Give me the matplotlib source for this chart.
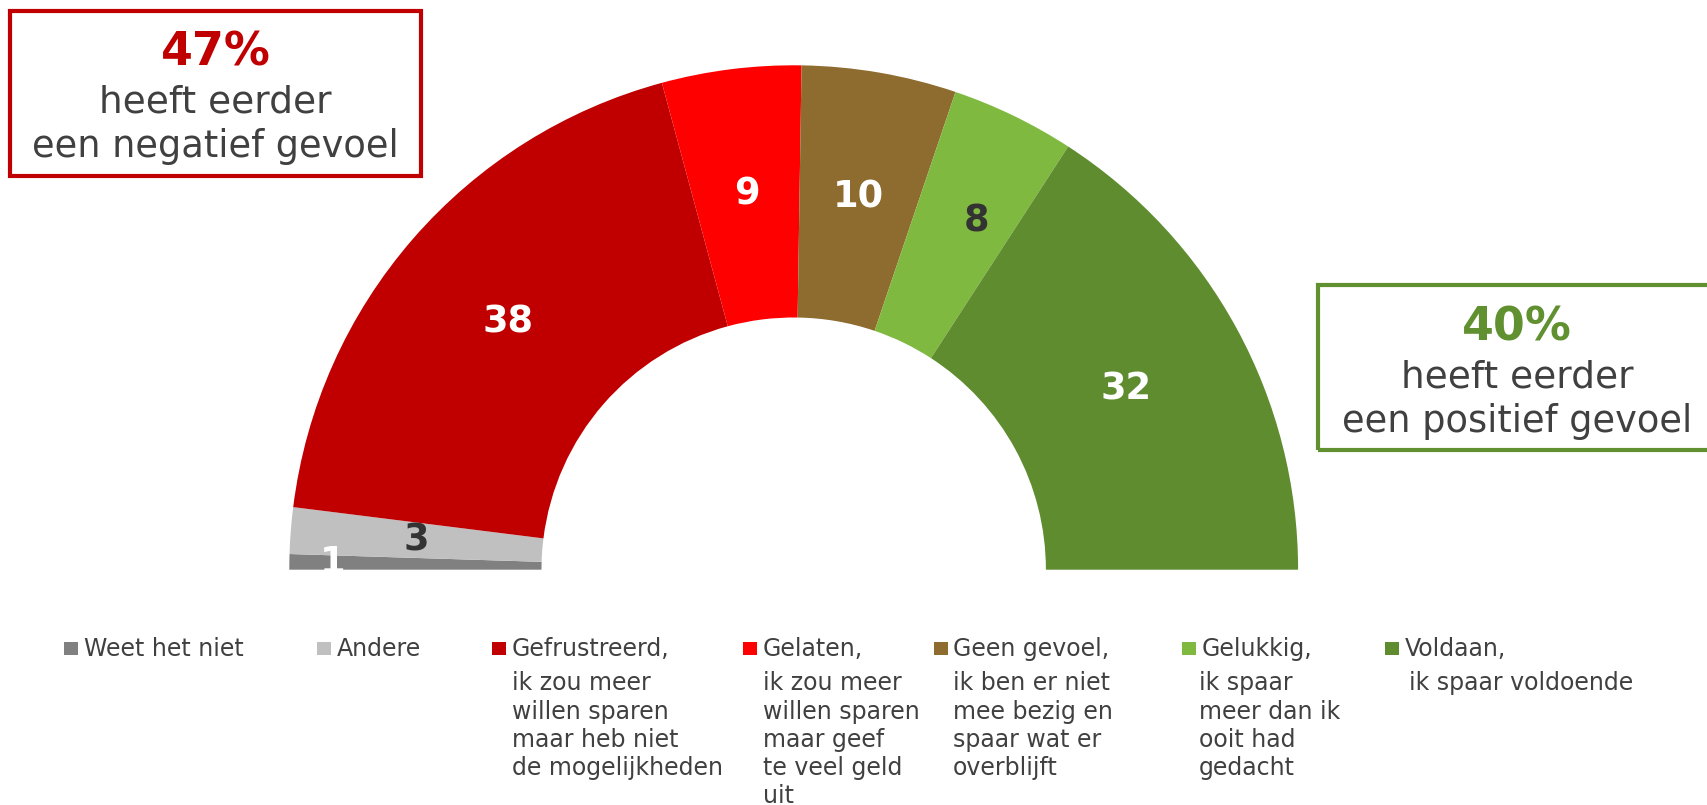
import numpy as np
import matplotlib
matplotlib.use('Agg')
import matplotlib.pyplot as plt
from matplotlib.patches import Rectangle

# Data
categories = ['Weet het niet', 'Andere', 'Gefrustreerd', 'Gelaten',
              'Geen gevoel', 'Gelukkig', 'Voldaan']
values = [1, 3, 38, 9, 10, 8, 32]
colors = ['#808080', '#C0C0C0', '#C00000', '#FF0000',
          '#8E6B2E', '#80B940', '#5F8C2F']
label_colors = ['white', '#333333', 'white', 'white', 'white', '#333333', 'white']
legend_titles = ['Weet het niet', 'Andere', 'Gefrustreerd,', 'Gelaten,',
                 'Geen gevoel,', 'Gelukkig,', 'Voldaan,']
legend_desc = [
    [],
    [],
    ['ik zou meer', 'willen sparen', 'maar heb niet', 'de mogelijkheden'],
    ['ik zou meer', 'willen sparen', 'maar geef', 'te veel geld', 'uit'],
    ['ik ben er niet', 'mee bezig en', 'spaar wat er', 'overblijft'],
    ['ik spaar', 'meer dan ik', 'ooit had', 'gedacht'],
    ['ik spaar voldoende'],
]
negative_pct = '47%'
positive_pct = '40%'

W, H = 1708, 805
fig = plt.figure(figsize=(W / 100, H / 100), dpi=100)
ax = fig.add_axes([0, 0, 1, 1])

# Half donut: add an invisible wedge for the bottom half
cx, cy, R = 793.7, 235.3, 504.4
total = sum(values)
wedges, _ = ax.pie(values + [total], colors=colors + ['none'],
                   startangle=180, counterclock=False,
                   radius=R, center=(cx, cy),
                   wedgeprops=dict(width=R * 0.5, linewidth=0))

# Value labels
label_r = [0.915, 0.75, 0.75, 0.75, 0.75, 0.78, 0.75]
label_shift = [0, 0, 0, 0, 0, -1.8, 0]   # small angular nudges (deg)
cum = np.cumsum([0] + values)
for i, v in enumerate(values):
    mid = 180 - (cum[i] + v / 2) / (2 * total) * 360 + label_shift[i]
    r = R * label_r[i]
    x = cx + r * np.cos(np.radians(mid))
    y = cy + r * np.sin(np.radians(mid))
    ax.text(x, y, str(v), ha='center', va='center', fontsize=26.5,
            fontweight='bold', color=label_colors[i], family='DejaVu Sans')

ax.set_xlim(0, W)
ax.set_ylim(0, H)
ax.set_aspect('equal')
ax.axis('off')

# Summary boxes
ax.add_patch(Rectangle((10, 629), 411, 165, fill=False, edgecolor='#C00000', linewidth=3))
ax.text(215.5, 740, negative_pct, ha='center', va='baseline', fontsize=33,
        fontweight='bold', color='#C00000')
ax.text(215.5, 693, 'heeft eerder', ha='center', va='baseline', fontsize=27, color='#404040')
ax.text(215.5, 648, 'een negatief gevoel', ha='center', va='baseline', fontsize=26.5, color='#404040')

ax.add_patch(Rectangle((1318, 355), 400, 165, fill=False, edgecolor='#609030', linewidth=3))
ax.text(1517, 465, positive_pct, ha='center', va='baseline', fontsize=33,
        fontweight='bold', color='#609030')
ax.text(1517, 418, 'heeft eerder', ha='center', va='baseline', fontsize=27, color='#404040')
ax.text(1517, 373, 'een positief gevoel', ha='center', va='baseline', fontsize=26.5, color='#404040')

# Legend
marker_x = [64, 317, 492, 743, 934, 1182, 1385]
text_x = [84, 337, 512, 763, 953, 1202, 1405]
desc_x = [84, 337, 512, 763, 953, 1199, 1409]
first_base = 149
line_bases = [115, 86, 58, 30, 2]
for i in range(len(categories)):
    ax.add_patch(Rectangle((marker_x[i], 150), 14, 13, facecolor=colors[i], edgecolor='none'))
    ax.text(text_x[i], first_base, legend_titles[i], ha='left', va='baseline',
            fontsize=17, color='#404040')
    for j, line in enumerate(legend_desc[i]):
        ax.text(desc_x[i], line_bases[j], line, ha='left', va='baseline',
                fontsize=17, color='#404040')

fig.savefig('out.png', dpi=100)
